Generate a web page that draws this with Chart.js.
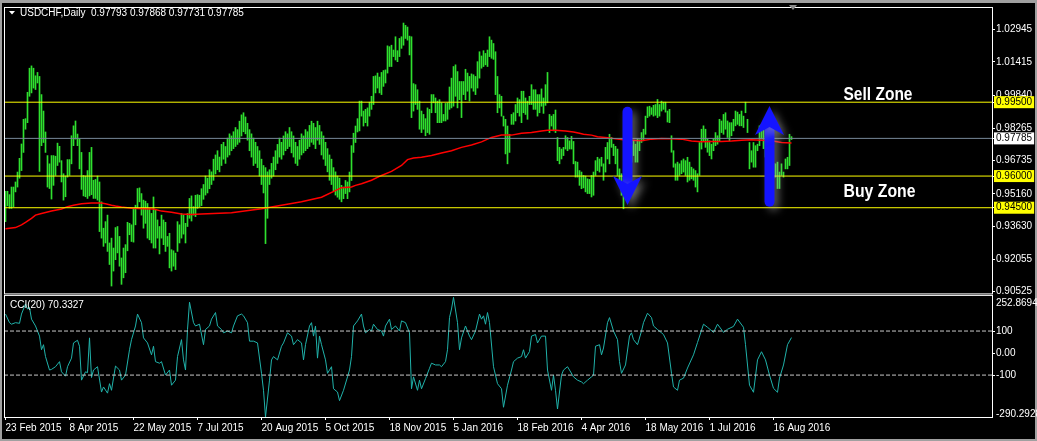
<!DOCTYPE html>
<html>
<head>
<meta charset="utf-8">
<script src="https://cdn.jsdelivr.net/npm/chart.js@4.4.0/dist/chart.umd.min.js"></script>
<style>
html, body { margin:0; padding:0; background:#000; }
canvas { display:block; }
</style>
</head>
<body>
<canvas id="myChart" width="1037" height="441"></canvas>
<script>
// USDCHF daily bars (high / low), one per trading day from 23 Feb 2015
var barHigh = [
 0.9528,0.9528,0.9512,0.9548,0.9548,0.9572,0.9619,0.9684,0.9752,0.9869,
 0.9872,0.9997,1.0111,1.0122,1.0111,1.0075,1.0091,1.0072,0.9986,0.9908,
 0.9809,0.9697,0.9658,0.9697,0.9697,0.9694,0.9756,0.9741,0.9673,0.9611,
 0.9600,0.9678,0.9678,0.9791,0.9838,0.9861,0.9799,0.9775,0.9712,0.9603,
 0.9600,0.9626,0.9712,0.9736,0.9580,0.9584,0.9600,0.9572,0.9478,0.9353,
 0.9384,0.9415,0.9283,0.9306,0.9259,0.9356,0.9361,0.9314,0.9212,0.9259,
 0.9275,0.9381,0.9376,0.9369,0.9447,0.9462,0.9541,0.9544,0.9517,0.9486,
 0.9481,0.9470,0.9447,0.9423,0.9501,0.9439,0.9392,0.9361,0.9415,0.9392,
 0.9381,0.9314,0.9329,0.9251,0.9246,0.9235,0.9384,0.9369,0.9423,0.9415,
 0.9376,0.9423,0.9494,0.9506,0.9455,0.9509,0.9512,0.9509,0.9540,0.9560,
 0.9600,0.9590,0.9630,0.9620,0.9680,0.9700,0.9720,0.9690,0.9750,0.9760,
 0.9740,0.9780,0.9800,0.9790,0.9810,0.9830,0.9820,0.9860,0.9890,0.9900,
 0.9880,0.9850,0.9820,0.9800,0.9780,0.9760,0.9740,0.9720,0.9680,0.9650,
 0.9640,0.9620,0.9630,0.9660,0.9690,0.9720,0.9750,0.9780,0.9760,0.9790,
 0.9810,0.9800,0.9830,0.9810,0.9790,0.9760,0.9740,0.9770,0.9800,0.9790,
 0.9820,0.9810,0.9840,0.9860,0.9850,0.9830,0.9860,0.9840,0.9810,0.9790,
 0.9760,0.9730,0.9700,0.9680,0.9640,0.9620,0.9600,0.9590,0.9556,0.9548,
 0.9579,0.9572,0.9619,0.9744,0.9803,0.9837,0.9872,0.9955,0.9955,0.9908,
 0.9916,0.9923,0.9950,0.9978,1.0072,1.0075,1.0088,1.0069,1.0091,1.0100,
 1.0103,1.0217,1.0213,1.0220,1.0197,1.0260,1.0194,1.0252,1.0260,1.0325,
 1.0314,1.0306,1.0263,1.0260,1.0038,1.0033,1.0009,0.9955,0.9908,0.9892,
 0.9872,0.9923,0.9916,0.9986,0.9986,0.9970,0.9955,0.9962,0.9947,0.9892,
 0.9944,0.9947,1.0022,1.0064,1.0119,1.0127,1.0095,1.0048,1.0048,1.0048,
 1.0106,1.0088,1.0072,1.0084,1.0080,1.0072,1.0142,1.0189,1.0169,1.0194,
 1.0181,1.0197,1.0260,1.0244,1.0228,1.0189,1.0072,0.9986,0.9978,0.9884,
 0.9869,0.9837,0.9798,0.9892,0.9900,0.9939,0.9970,0.9962,1.0002,1.0002,
 0.9970,0.9955,0.9978,1.0033,1.0009,1.0009,0.9986,0.9986,1.0013,0.9970,
 1.0033,1.0091,0.9892,0.9884,0.9892,0.9913,0.9783,0.9736,0.9728,0.9736,
 0.9791,0.9783,0.9767,0.9788,0.9764,0.9669,0.9666,0.9626,0.9619,0.9603,
 0.9600,0.9587,0.9584,0.9603,0.9619,0.9673,0.9689,0.9681,0.9689,0.9658,
 0.9736,0.9759,0.9798,0.9783,0.9751,0.9741,0.9728,0.9634,0.9611,0.9540,
 0.9595,0.9600,0.9775,0.9744,0.9767,0.9751,0.9775,0.9772,0.9806,0.9822,
 0.9884,0.9928,0.9931,0.9924,0.9935,0.9939,0.9963,0.9939,0.9955,0.9950,
 0.9950,0.9908,0.9916,0.9791,0.9720,0.9658,0.9666,0.9658,0.9673,0.9681,
 0.9673,0.9689,0.9666,0.9642,0.9634,0.9626,0.9611,0.9759,0.9822,0.9838,
 0.9822,0.9775,0.9767,0.9751,0.9775,0.9806,0.9791,0.9869,0.9861,0.9892,
 0.9900,0.9861,0.9853,0.9853,0.9869,0.9908,0.9903,0.9892,0.9908,0.9884,
 0.9950,0.9869,0.9759,0.9720,0.9759,0.9744,0.9751,0.9838,0.9845,0.9820,
 0.9790,0.9740,0.9700,0.9670,0.9660,0.9658,0.9666,0.9619,0.9658,0.9619,
 0.9681,0.9689,0.9798,0.97868
];
var barLow = [
 0.9384,0.9459,0.9447,0.9447,0.9455,0.9525,0.9548,0.9590,0.9626,0.9712,
 0.9822,0.9853,0.9978,0.9994,1.0017,1.0010,1.0041,0.9622,0.9744,0.9759,
 0.9712,0.9548,0.9541,0.9491,0.9556,0.9603,0.9650,0.9666,0.9572,0.9486,
 0.9502,0.9595,0.9603,0.9658,0.9744,0.9775,0.9744,0.9634,0.9537,0.9506,
 0.9502,0.9494,0.9506,0.9512,0.9494,0.9494,0.9486,0.9337,0.9306,0.9267,
 0.9283,0.9243,0.9181,0.9079,0.9150,0.9204,0.9236,0.9173,0.9087,0.9118,
 0.9142,0.9246,0.9322,0.9290,0.9287,0.9369,0.9447,0.9478,0.9415,0.9353,
 0.9376,0.9306,0.9298,0.9283,0.9259,0.9259,0.9306,0.9231,0.9306,0.9275,
 0.9243,0.9267,0.9165,0.9150,0.9173,0.9157,0.9243,0.9283,0.9306,0.9325,
 0.9283,0.9361,0.9400,0.9387,0.9415,0.9408,0.9447,0.9455,0.9460,0.9490,
 0.9510,0.9520,0.9540,0.9560,0.9580,0.9610,0.9630,0.9620,0.9650,0.9680,
 0.9660,0.9690,0.9700,0.9720,0.9730,0.9740,0.9750,0.9760,0.9790,0.9810,
 0.9800,0.9770,0.9720,0.9690,0.9650,0.9660,0.9640,0.9600,0.9560,0.9520,
 0.9280,0.9400,0.9560,0.9590,0.9600,0.9630,0.9660,0.9690,0.9680,0.9700,
 0.9720,0.9730,0.9740,0.9710,0.9690,0.9660,0.9650,0.9680,0.9700,0.9710,
 0.9720,0.9730,0.9740,0.9760,0.9750,0.9730,0.9770,0.9750,0.9700,0.9680,
 0.9650,0.9620,0.9580,0.9560,0.9530,0.9510,0.9500,0.9490,0.9478,0.9493,
 0.9517,0.9493,0.9525,0.9579,0.9712,0.9759,0.9809,0.9814,0.9884,0.9837,
 0.9853,0.9837,0.9884,0.9916,0.9939,0.9994,1.0017,0.9994,0.9986,1.0025,
 1.0041,1.0088,1.0119,1.0119,1.0166,1.0150,1.0142,1.0166,1.0205,1.0220,
 1.0252,1.0244,1.0174,0.9877,0.9908,0.9939,0.9916,0.9822,0.9806,0.9822,
 0.9791,0.9806,0.9798,0.9900,0.9947,0.9900,0.9853,0.9853,0.9853,0.9861,
 0.9861,0.9869,0.9916,0.9923,0.9931,0.9978,0.9923,0.9962,0.9877,0.9986,
 0.9962,1.0002,0.9955,1.0017,1.0002,0.9986,1.0017,1.0064,1.0111,1.0119,
 1.0127,1.0119,1.0166,1.0158,1.0153,0.9986,0.9900,0.9923,0.9884,0.9837,
 0.9705,0.9658,0.9712,0.9845,0.9845,0.9861,0.9900,0.9884,0.9853,0.9900,
 0.9892,0.9869,0.9939,0.9939,0.9916,0.9916,0.9884,0.9900,0.9931,0.9897,
 0.9935,0.9947,0.9806,0.9837,0.9814,0.9806,0.9673,0.9658,0.9681,0.9697,
 0.9728,0.9720,0.9728,0.9728,0.9658,0.9595,0.9595,0.9556,0.9540,0.9544,
 0.9525,0.9517,0.9517,0.9501,0.9509,0.9603,0.9626,0.9619,0.9647,0.9580,
 0.9619,0.9681,0.9658,0.9736,0.9697,0.9658,0.9603,0.9556,0.9509,0.9445,
 0.9540,0.9530,0.9681,0.9666,0.9697,0.9666,0.9666,0.9720,0.9759,0.9767,
 0.9798,0.9877,0.9884,0.9892,0.9884,0.9888,0.9877,0.9884,0.9908,0.9916,
 0.9903,0.9856,0.9853,0.9713,0.9642,0.9580,0.9580,0.9603,0.9611,0.9619,
 0.9603,0.9572,0.9580,0.9587,0.9580,0.9548,0.9525,0.9603,0.9728,0.9767,
 0.9736,0.9713,0.9697,0.9681,0.9720,0.9744,0.9751,0.9767,0.9806,0.9798,
 0.9822,0.9783,0.9767,0.9791,0.9814,0.9838,0.9845,0.9838,0.9838,0.9830,
 0.9900,0.9806,0.9634,0.9666,0.9642,0.9642,0.9720,0.9744,0.9775,0.9730,
 0.9690,0.9640,0.9610,0.9590,0.9590,0.9595,0.9541,0.9541,0.9603,0.9595,
 0.9634,0.9634,0.9650,0.97731
];
var lastOpen = 0.97793;
var lastClose = 0.97785;

// moving average (red), read at bar positions
var maBars = [0,5,8,10,13,15,18,23,28,31,34,38,43,48,50,53,55,58,63,69,74,78,83,88,93,98,113,128,148,158,
 168,173,175,178,183,188,193,198,201,204,208,213,218,223,228,233,238,243,248,253,258,263,268,271,275,280,284,287,289,293,
 296,301,306,309,313,318,323,328,333,338,343,348,353,358,363,368,373,378,383,388,393];
var maValues = [0.9350,0.9356,0.9369,0.9381,0.9400,0.9415,0.9423,0.9434,0.9444,0.9455,0.9462,0.9469,0.9472,0.9472,0.9469,0.9462,0.9458,0.9453,0.9447,0.9445,0.9444,0.9434,0.9428,0.9420,0.9418,0.9420,0.9426,0.9445,0.9478,0.9500,
 0.9545,0.9548,0.9556,0.9564,0.9580,0.9603,0.9622,0.9650,0.9678,0.9686,0.9689,0.9697,0.9709,0.9720,0.9736,0.9747,0.9762,0.9783,0.9794,0.9794,0.9803,0.9806,0.9814,0.9817,0.9817,0.9814,0.9809,0.9803,0.9798,0.9794,
 0.9786,0.9781,0.9775,0.9772,0.9770,0.9767,0.9775,0.9778,0.9777,0.9775,0.9766,0.9762,0.9764,0.9764,0.9766,0.9770,0.9772,0.9770,0.9767,0.9759,0.9757];

// CCI(20)
var cciBars = [0,2,3,5,7,8,10,11,12,13,15,17,18,19,20,22,23,25,27,28,30,31,33,34,36,37,38,40,41,42,43,44,46,48,49,51,52,53,55,57,58,60,62,63,65,66,68,69,71,73,74,75,77,78,80,82,83,85,86,88,89,90,91,92,94,95,97,99,100,102,103,105,106,108,109,111,113,114,116,118,119,121,122,124,126,128,129,130,132,133,134,136,138,139,141,143,144,146,148,149,150,152,153,154,155,156,157,158,160,161,163,164,166,167,169,171,172,
 173,174,176,178,179,180,182,183,184,186,188,189,190,192,193,195,197,198,200,202,203,204,206,207,208,210,212,213,215,217,218,220,221,222,223,224,226,227,228,230,232,233,235,237,238,239,240,241,242,244,246,248,249,251,253,254,256,258,259,260,262,263,265,266,268,270,271,273,274,275,276,278,279,281,282,284,286,288,289,291,293,294,295,297,298,299,301,302,304,306,307,308,310,312,313,314,316,318,319,321,323,324,326,328,329,331,333,334,336,337,
 339,341,344,346,349,351,354,356,359,361,364,366,369,370,372,374,376,378,380,382,384,386,387,389,391,393];
var cciValues = [177,138,131,138,135,177,223,200,207,154,123,77,15,38,-16,-77,-74,-62,-39,-85,-105,-62,-23,46,58,31,-123,-85,-89,69,-111,-77,-62,-177,-154,-182,-139,-169,-59,-77,-123,-100,15,61,123,177,138,69,46,-8,31,-39,-46,-39,-100,-77,-146,-123,-16,61,-31,-77,107,231,138,123,131,38,107,123,154,184,123,107,92,100,92,123,169,177,169,138,54,54,46,-92,-169,-290.2928,-123,-31,-16,-31,31,46,92,77,38,61,46,-31,38,123,138,77,123,-23,77,38,-31,-92,-62,-162,-177,-216,-169,-108,-77,
 -16,123,146,177,123,92,107,100,131,107,100,77,123,154,107,123,100,146,138,92,-162,-108,-169,-123,-162,-116,-69,-46,-54,-54,-62,-39,15,161,200,252.8694,138,15,69,123,77,61,100,177,154,169,131,184,138,-62,-139,-162,-246,-146,-77,-39,-23,-16,15,-23,7,77,84,46,77,77,-77,-169,-100,-169,-254,-100,-77,-62,-77,-108,-123,-131,-139,-123,-108,-100,31,38,-8,23,138,161,100,61,-39,-92,-54,77,92,61,38,100,138,181,161,123,107,92,84,46,-92,-154,-169,-123,
 -114,-68,-8,48,131,117,94,131,94,108,121,154,117,38,-146,-178,-31,6,-31,-100,-160,-178,-114,-54,38,70.3327];

var dateLabels = ['23 Feb 2015','8 Apr 2015','22 May 2015','7 Jul 2015','20 Aug 2015','5 Oct 2015','18 Nov 2015','5 Jan 2016','18 Feb 2016','4 Apr 2016','18 May 2016','1 Jul 2016','16 Aug 2016'];
var dateTickBars = [0,32,64,96,128,160,192,224,256,288,320,352,384];
var priceTicks = [1.02945,1.01415,0.99840,0.98265,0.96735,0.95160,0.93630,0.92055,0.90525];
var zoneLevels = [0.99500,0.96000,0.94500];
var cciTicks = [100,0,-100];
var cciTickLabels = ['100','0.00','-100'];
var cciMax = 252.8694, cciMin = -290.2928;
var cciLevels = [100,-100];

// hand drawn arrows: bar, tail price, tip price
var arrowBars = [311,382];
var arrowTail = [0.9928,0.9455];
var arrowTip = [0.9463,0.9932];
var zoneTextBar = 419;

var xMin = -0.75, xMax = 493.25;
var FONT = '"Liberation Sans", Arial, sans-serif';

var ohlc = [];
for (var i = 0; i < barHigh.length; i++) {
	ohlc.push({x: i, y: [barLow[i], barHigh[i]]});
}
var maData = [];
for (var i = 0; i < maBars.length; i++) maData.push({x: maBars[i], y: maValues[i]});
var cciData = [];
for (var i = 0; i < cciBars.length; i++) cciData.push({x: cciBars[i], y: cciValues[i]});

function levelLine(v, color, axis, dash) {
	return {
		type: 'line',
		data: [{x: xMin, y: v}, {x: xMax, y: v}],
		borderColor: color, borderWidth: 1, borderDash: dash || [],
		pointRadius: 0, yAxisID: axis, order: 1
	};
}

function isZone(v) {
	for (var k = 0; k < zoneLevels.length; k++) if (Math.abs(zoneLevels[k] - v) < 1e-7) return true;
	return false;
}

var datasets = [{
	type: 'bar',
	data: ohlc,
	backgroundColor: '#2fe02f',
	borderWidth: 0,
	barThickness: 1,
	grouped: false,
	yAxisID: 'y',
	order: 10
}, {
	type: 'line',
	data: maData,
	borderColor: '#ff0000',
	borderWidth: 1.5,
	pointRadius: 0,
	yAxisID: 'y',
	order: 5
}, {
	type: 'line',
	data: cciData,
	borderColor: '#20b2aa',
	borderWidth: 1,
	pointRadius: 0,
	yAxisID: 'yc',
	order: 2
}];
for (var k = 0; k < zoneLevels.length; k++) datasets.push(levelLine(zoneLevels[k], '#ffff00', 'y'));
datasets.push(levelLine(lastClose, '#778899', 'y'));
for (var k = 0; k < cciLevels.length; k++) datasets.push(levelLine(cciLevels[k], '#c8c8c8', 'yc', [4, 2]));

function drawArrow(c, x, yTail, yTip) {
	var dir = yTip > yTail ? 1 : -1;
	c.save();
	c.shadowColor = 'rgba(170,170,170,0.55)';
	c.shadowBlur = 8;
	c.shadowOffsetX = 4;
	c.shadowOffsetY = 4;
	c.strokeStyle = '#1414ff';
	c.fillStyle = '#1414ff';
	c.lineWidth = 10;
	c.lineCap = 'round';
	c.beginPath();
	c.moveTo(x, yTail + dir * 5);
	c.lineTo(x, yTip - dir * 22);
	c.stroke();
	c.beginPath();
	c.moveTo(x, yTip);
	c.lineTo(x - 14.5, yTip - dir * 29);
	c.lineTo(x, yTip - dir * 21);
	c.lineTo(x + 14.5, yTip - dir * 29);
	c.closePath();
	c.fill();
	c.restore();
}

var mt4Plugin = {
	id: 'mt4',
	beforeDraw: function(chart) {
		var c = chart.ctx;
		c.save();
		c.fillStyle = '#000';
		c.fillRect(0, 0, chart.width, chart.height);
		c.fillStyle = '#a0a0a0';
		c.fillRect(0, 0, chart.width, 3);
		c.fillRect(0, 0, 2, chart.height);
		c.fillRect(chart.width - 2, 0, 2, chart.height);
		c.fillRect(0, chart.height - 2, chart.width, 2);
		c.restore();
	},
	afterDatasetsDraw: function(chart) {
		var c = chart.ctx, sx = chart.scales.x, sy = chart.scales.y;
		for (var k = 0; k < arrowBars.length; k++) {
			drawArrow(c, sx.getPixelForValue(arrowBars[k]), sy.getPixelForValue(arrowTail[k]), sy.getPixelForValue(arrowTip[k]));
		}
	},
	afterDraw: function(chart) {
		var c = chart.ctx, a = chart.chartArea, sx = chart.scales.x, sy = chart.scales.y, yc = chart.scales.yc;
		c.save();
		// pane frames
		c.strokeStyle = '#ffffff';
		c.lineWidth = 1;
		c.strokeRect(a.left + 0.5, a.top + 0.5, a.right - a.left, sy.bottom - a.top - 1.5);
		c.strokeRect(a.left + 0.5, yc.top + 0.5, a.right - a.left, a.bottom - yc.top);
		// chart shift marker
		c.fillStyle = '#8c8c8c';
		c.beginPath();
		c.moveTo(789, 5); c.lineTo(797, 5); c.lineTo(793, 10); c.closePath();
		c.fill();
		// header
		c.fillStyle = '#ffffff';
		c.beginPath();
		c.moveTo(9, 11); c.lineTo(15, 11); c.lineTo(12, 14.5); c.closePath();
		c.fill();
		c.font = '10px ' + FONT;
		c.textBaseline = 'alphabetic';
		c.fillText('USDCHF,Daily', 20, 16);
		c.fillText([lastOpen, barHigh[barHigh.length - 1], barLow[barLow.length - 1], lastClose].map(function(v){ return v.toFixed(5); }).join(' '), 91, 16);
		c.fillText('CCI(20) ' + cciValues[cciValues.length - 1].toFixed(4), 10, 308);
		// CCI window range labels, kept inside the window like the terminal does
		c.textBaseline = 'top';
		c.fillText(cciMax.toFixed(4), a.right + 4, yc.getPixelForValue(cciMax) + 0.5);
		c.textBaseline = 'bottom';
		c.fillText(cciMin.toFixed(4), a.right + 4, yc.getPixelForValue(cciMin) + 2);
		// zone captions
		var tx = sx.getPixelForValue(zoneTextBar);
		c.textBaseline = 'alphabetic';
		c.font = 'bold 18px ' + FONT;
		c.fillText('Sell Zone', tx, sy.getPixelForValue(zoneLevels[0]) - 2.5, 69);
		c.fillText('Buy Zone', tx, sy.getPixelForValue(zoneLevels[1]) + 21, 72);
		c.restore();
	}
};

var ctx = document.getElementById('myChart');
var myChart = new Chart(ctx, {
	type: 'line',
	data: { datasets: datasets },
	options: {
		responsive: false,
		animation: false,
		events: [],
		layout: { padding: { left: 4, top: 4, right: 0, bottom: 0 } },
		plugins: { legend: { display: false }, tooltip: { enabled: false } },
		scales: {
			x: {
				type: 'linear', min: xMin, max: xMax, offset: false, bounds: 'data',
				afterFit: function(scale) { scale.height = 24; },
				afterBuildTicks: function(scale) {
					scale.ticks = dateTickBars.map(function(v) { return {value: v}; });
				},
				grid: { display: true, drawOnChartArea: false, drawTicks: true, tickLength: 3, color: '#ffffff', offset: false },
				border: { display: false },
				ticks: {
					autoSkip: false, maxRotation: 0, minRotation: 0, align: 'start', padding: 2,
					color: '#ffffff', font: { family: FONT, size: 10 },
					callback: function(v) { return dateLabels[dateTickBars.indexOf(v)]; }
				}
			},
			y: {
				type: 'linear', position: 'right', stack: 'panes', stackWeight: 290, weight: 0,
				min: 0.9037, max: 1.0401, bounds: 'data',
				afterFit: function(scale) { scale.width = 45; },
				afterBuildTicks: function(scale) {
					scale.ticks = priceTicks.concat(zoneLevels, [lastClose]).map(function(v) { return {value: v}; });
				},
				grid: { display: true, drawOnChartArea: false, drawTicks: true, tickLength: 3, color: '#ffffff' },
				border: { display: false },
				ticks: {
					autoSkip: false, padding: 1, font: { family: FONT, size: 10 },
					callback: function(v) { return v.toFixed(5); },
					color: function(c) { var v = c.tick.value; return (isZone(v) || v === lastClose) ? '#000000' : '#ffffff'; },
					showLabelBackdrop: true,
					backdropColor: function(c) {
						var v = c.tick.value;
						if (v === lastClose) return '#ffffff';
						if (isZone(v)) return '#ffff00';
						return 'rgba(0,0,0,0)';
					},
					backdropPadding: { top: 0, bottom: 0, left: 2, right: 2 }
				}
			},
			yc: {
				type: 'linear', position: 'right', stack: 'panes', stackWeight: 123, weight: 1,
				min: cciMin, max: 264.1, bounds: 'data',
				afterFit: function(scale) { scale.width = 45; },
				afterBuildTicks: function(scale) {
					scale.ticks = cciTicks.map(function(v) { return {value: v}; });
				},
				grid: { display: true, drawOnChartArea: false, drawTicks: true, tickLength: 3, color: '#ffffff' },
				border: { display: false },
				ticks: {
					autoSkip: false, padding: 1, color: '#ffffff', font: { family: FONT, size: 10 },
					callback: function(v) { return cciTickLabels[cciTicks.indexOf(v)]; }
				}
			}
		}
	},
	plugins: [mt4Plugin]
});
</script>
</body>
</html>
